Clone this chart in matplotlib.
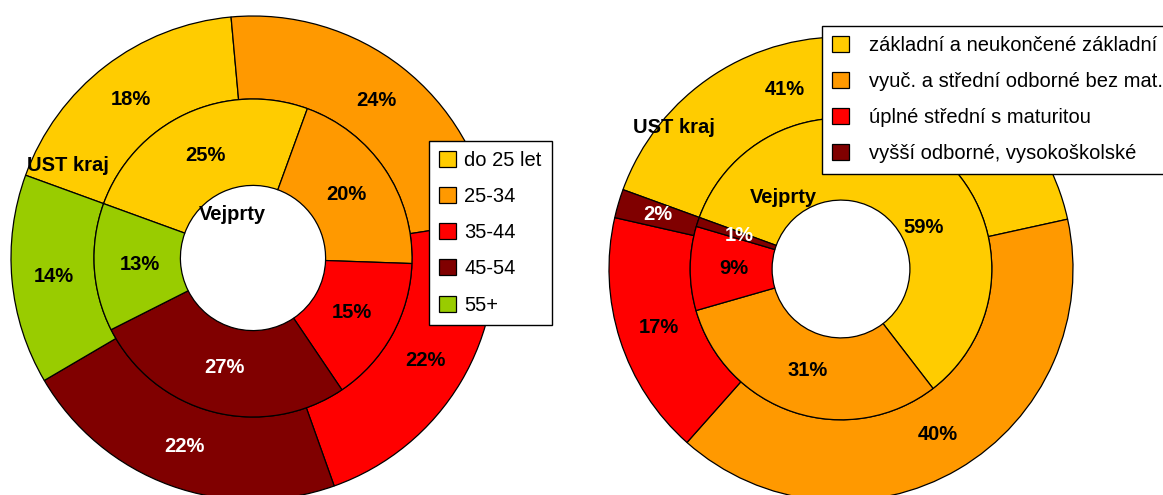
import matplotlib.pyplot as plt

plt.rcParams['font.family'] = ['Liberation Sans', 'DejaVu Sans']

# data
vek_kat = ['do 25 let', '25-34', '35-44', '45-54', '55+']
vek_kraj = [18, 24, 22, 22, 14]
vek_obec = [25, 20, 15, 27, 13]
vek_barvy = ['#FFCC00', '#FF9900', '#FF0000', '#800000', '#99CC00']

vzd_kat = ['základní a neukončené základní', 'vyuč. a střední odborné bez mat.',
           'úplné střední s maturitou', 'vyšší odborné, vysokoškolské']
vzd_kraj = [41, 40, 17, 2]
vzd_obec = [59, 31, 9, 1]
vzd_barvy = ['#FFCC00', '#FF9900', '#FF0000', '#800000']

FS = 14.5
W, H = 1163, 495
fig = plt.figure(figsize=(W / 100, H / 100), dpi=100)


def prstenec(cx, cy, r, r_in, r_hole, kraj, obec, barvy, poz_kraj, poz_obec):
    # osa v pixelech obrázku (odshora)
    ax = fig.add_axes([(cx - r) / W, (H - cy - r) / H, 2 * r / W, 2 * r / H])
    wp = dict(edgecolor='black', linewidth=0.9)
    fmt = lambda p: f'{p:.0f}%'
    w_out, _, t_out = ax.pie(kraj, colors=barvy, radius=1, startangle=160, counterclock=False,
                             autopct=fmt, pctdistance=(1 + r_in) / 2,
                             wedgeprops=dict(width=1 - r_in, **wp),
                             textprops=dict(fontsize=FS, fontweight='bold'))
    w_in, _, t_in = ax.pie(obec, colors=barvy, radius=r_in, startangle=160, counterclock=False,
                           autopct=fmt, pctdistance=0.71,
                           wedgeprops=dict(width=r_in - r_hole, **wp),
                           textprops=dict(fontsize=FS, fontweight='bold'))
    for t, c in zip(t_out + t_in, barvy + barvy):
        if c == '#800000':
            t.set_color('white')
    ax.text(*poz_kraj, 'UST kraj', ha='center', va='center', fontsize=FS, fontweight='bold')
    ax.text(*poz_obec, 'Vejprty', ha='center', va='center', fontsize=FS, fontweight='bold')
    ax.set_xlim(-1, 1)
    ax.set_ylim(-1, 1)
    ax.set_aspect('auto')
    ax.axis('off')
    return ax, w_out, t_out, t_in


ax1, w1, _, _ = prstenec(253, 258, 242, 0.657, 0.30, vek_kraj, vek_obec, vek_barvy,
                         (-0.764, 0.384), (-0.087, 0.178))
ax2, w2, t2_out, t2_in = prstenec(841, 269, 232, 0.65, 0.297, vzd_kraj, vzd_obec, vzd_barvy,
                                  (-0.72, 0.608), (-0.25, 0.31))
# popisky posunuté kvůli legendě
t2_out[0].set_position((-0.241, 0.772))
t2_in[0].set_position((0.358, 0.181))

leg_kw = dict(loc='upper left', bbox_transform=fig.transFigure, fontsize=FS,
              fancybox=False, framealpha=1, edgecolor='black', borderaxespad=0,
              handlelength=0.85, handleheight=0.85, borderpad=0.5)
l1 = fig.legend(w1, vek_kat, bbox_to_anchor=(429 / W, 1 - 141 / H),
                handletextpad=0.4, labelspacing=0.85, **leg_kw)
l2 = fig.legend(w2, vzd_kat, bbox_to_anchor=(822 / W, 1 - 26 / H),
                handletextpad=1.0, labelspacing=0.85, **leg_kw)
for l in (l1, l2):
    l.get_frame().set_linewidth(1)

fig.savefig('out.png', dpi=100)
